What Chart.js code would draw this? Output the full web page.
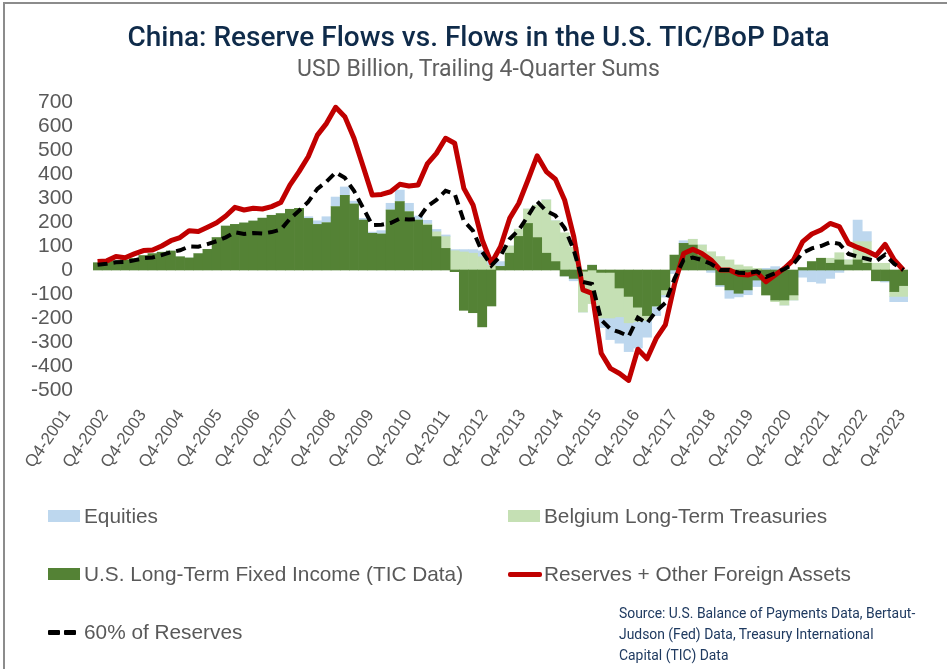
<!DOCTYPE html>
<html>
<head>
<meta charset="utf-8">
<script src="https://cdn.jsdelivr.net/npm/chart.js@4.4.1/dist/chart.umd.min.js"></script>
<style>
  html, body { margin: 0; padding: 0; background: #fff; }
  #wrap { position: relative; width: 947px; height: 669px; overflow: hidden; font-family: "Liberation Sans", Arial, sans-serif; }
  #frame { position: absolute; left: 3px; top: 2px; width: 1000px; height: 1000px; border-left: 2px solid #8c8c8c; border-top: 2px solid #8c8c8c; }
  #chart { position: absolute; left: 0; top: 0; }
  .title { position: absolute; left: 5px; width: 947px; text-align: center; white-space: nowrap; }
  #t1 { top: 21px; font-family: Roboto, sans-serif; font-weight: 500; font-size: 28px; line-height: 32px; color: #0f2b4a; }
  #t2 { top: 56px; font-family: Roboto, sans-serif; font-size: 23px; line-height: 26px; color: #5f5f5f; }
  .lg { position: absolute; font-size: 20.8px; line-height: 24px; color: #595959; white-space: nowrap; }
  .sw { position: absolute; }
  #src { position: absolute; left: 619px; top: 603px; font-family: Roboto, sans-serif; font-size: 13.9px; line-height: 21px; color: #1f3a60; }
</style>
</head>
<body>
<div id="wrap">
  <canvas id="chart" width="947" height="669"></canvas>
  <div id="frame"></div>
  <div class="title" id="t1">China: Reserve Flows vs. Flows in the U.S. TIC/BoP Data</div>
  <div class="title" id="t2">USD Billion, Trailing 4-Quarter Sums</div>

  <div class="sw" style="left:48px;top:510px;width:32px;height:12px;background:#bdd7ee"></div>
  <div class="lg" style="left:84px;top:504px">Equities</div>
  <div class="sw" style="left:508px;top:510px;width:32px;height:12px;background:#c5e0b4"></div>
  <div class="lg" style="left:544px;top:504px">Belgium Long-Term Treasuries</div>
  <div class="sw" style="left:48px;top:568px;width:32px;height:12px;background:#548235"></div>
  <div class="lg" style="left:84px;top:562px">U.S. Long-Term Fixed Income (TIC Data)</div>
  <div class="sw" style="left:508px;top:572px;width:34px;height:5px;background:#c00000;border-radius:2px"></div>
  <div class="lg" style="left:544px;top:562px">Reserves + Other Foreign Assets</div>
  <div class="sw" style="left:48px;top:630px;width:12px;height:5px;background:#000;border-radius:1px"></div>
  <div class="sw" style="left:64px;top:630px;width:12px;height:5px;background:#000;border-radius:1px"></div>
  <div class="lg" style="left:84px;top:620px">60% of Reserves</div>

  <div id="src">Source: U.S. Balance of Payments Data, Bertaut-<br>Judson (Fed) Data, Treasury International<br>Capital (TIC) Data</div>
</div>

<script>
// Quarterly categories, Q4-2001 through Q4-2023
const quarters = [
  "Q4-2001",
  "Q1-2002","Q2-2002","Q3-2002","Q4-2002","Q1-2003","Q2-2003","Q3-2003","Q4-2003",
  "Q1-2004","Q2-2004","Q3-2004","Q4-2004","Q1-2005","Q2-2005","Q3-2005","Q4-2005",
  "Q1-2006","Q2-2006","Q3-2006","Q4-2006","Q1-2007","Q2-2007","Q3-2007","Q4-2007",
  "Q1-2008","Q2-2008","Q3-2008","Q4-2008","Q1-2009","Q2-2009","Q3-2009","Q4-2009",
  "Q1-2010","Q2-2010","Q3-2010","Q4-2010","Q1-2011","Q2-2011","Q3-2011","Q4-2011",
  "Q1-2012","Q2-2012","Q3-2012","Q4-2012","Q1-2013","Q2-2013","Q3-2013","Q4-2013",
  "Q1-2014","Q2-2014","Q3-2014","Q4-2014","Q1-2015","Q2-2015","Q3-2015","Q4-2015",
  "Q1-2016","Q2-2016","Q3-2016","Q4-2016","Q1-2017","Q2-2017","Q3-2017","Q4-2017",
  "Q1-2018","Q2-2018","Q3-2018","Q4-2018","Q1-2019","Q2-2019","Q3-2019","Q4-2019",
  "Q1-2020","Q2-2020","Q3-2020","Q4-2020","Q1-2021","Q2-2021","Q3-2021","Q4-2021",
  "Q1-2022","Q2-2022","Q3-2022","Q4-2022","Q1-2023","Q2-2023","Q3-2023","Q4-2023"
];

// Axis labels shown along the bottom (one per year)
const yearLabels = [
  "Q4-2001","Q4-2002","Q4-2003","Q4-2004","Q4-2005","Q4-2006","Q4-2007","Q4-2008",
  "Q4-2009","Q4-2010","Q4-2011","Q4-2012","Q4-2013","Q4-2014","Q4-2015","Q4-2016",
  "Q4-2017","Q4-2018","Q4-2019","Q4-2020","Q4-2021","Q4-2022","Q4-2023"
];

// USD billion, trailing 4-quarter sums
const usLongTermFixedIncome = [
  30,
  33, 38, 42, 48, 60, 68, 74, 79,
  55, 50, 68, 86, 135, 183, 190, 196,
  204, 216, 228, 235, 253, 257, 215, 190,
  197, 264, 311, 275, 208, 153, 150, 250,
  285, 243, 208, 187, 139, 90, -7, -168,
  -178, -237, -150, 15, 70, 140, 194, 135,
  70, 35, -25, -35, -5, 20, -10, -10,
  -75, -110, -155, -190, -150, -83, 62, 111,
  104, 60, 28, -62, -83, -97, -83, -42,
  -104, -125, -125, -104, 10, 35, 49, 28,
  42, 21, 42, 28, -45, -45, -90, -65
];

const belgiumLongTermTreasuries = [
  0,
  0, 0, 0, 0, 0, 0, 0, 0,
  0, 0, 0, 0, 0, 0, 0, 0,
  0, 0, 0, 0, 0, 0, 0, 0,
  0, 0, 0, 0, 0, 0, 0, 0,
  0, 0, 0, 5, 20, 49, 80, 75,
  70, 55, 20, 0, 30, 30, 60, 135,
  222, 170, 155, 95, -170, -140, -190, -190,
  -120, -110, -60, -20, 0, -20, 0, 0,
  24, 44, 48, 56, 42, 21, 14, 7,
  0, -7, -21, -21, 0, 0, 0, 21,
  30, 21, 76, 90, 28, 28, -20, -45
];

const equities = [
  0,
  0, 0, 0, 0, 0, 0, 0, 0,
  0, 0, 0, 0, 0, 0, 0, 0,
  0, 0, 0, 0, 0, 0, 7, 15,
  25, 40, 35, 12, 7, 5, 14, 28,
  48, 35, 17, 15, 10, 7, 5, 10,
  15, 25, 25, 20, 0, 0, 0, 0,
  0, 0, 0, -10, 0, 0, -40, -90,
  -110, -120, -110, -70, -40, -10, -15, 11,
  0, 0, -10, -7, -35, -15, -20, -27,
  7, 14, 0, 0, -30, -49, -55, -35,
  -10, 0, 90, 42, 0, -5, -22, -22
];

const reservesAndOtherAssets = [
  35,
  38, 56, 51, 67, 81, 83, 100, 122,
  135, 164, 160, 178, 197, 225, 261, 250,
  257, 254, 264, 281, 354, 410, 472, 562,
  611, 678, 639, 549, 431, 312, 315, 326,
  357, 350, 354, 442, 486, 549, 528, 340,
  271, 125, 28, 97, 215, 278, 375, 476,
  410, 378, 292, 139, -83, -97, -347, -410,
  -431, -460, -330, -370, -285, -229, -60, 69,
  86, 69, 42, 0, 0, -18, -21, -10,
  -49, -21, 7, 42, 118, 150, 167, 194,
  181, 111, 94, 79, 60, 107, 42, 0
];

const sixtyPctOfReserves = [
  22,
  26, 32, 33, 40, 49, 52, 62, 74,
  82, 98, 97, 108, 120, 136, 157, 150,
  154, 152, 158, 168, 213, 247, 284, 338,
  368, 407, 384, 330, 258, 187, 189, 196,
  214, 210, 212, 265, 292, 330, 317, 204,
  163, 75, 18, 58, 129, 167, 225, 286,
  246, 227, 175, 83, -50, -58, -208, -246,
  -259, -276, -198, -222, -171, -137, -36, 42,
  52, 42, 25, 0, 0, -11, -13, -6,
  -29, -13, 4, 25, 71, 90, 100, 116,
  109, 67, 56, 47, 36, 64, 25, 0
];

const yTicks = [700, 600, 500, 400, 300, 200, 100, 0, -100, -200, -300, -400, -500];

const tickFont = { family: "'Liberation Sans', Arial, sans-serif", size: 21 };
const xFont = { family: "'Liberation Sans', Arial, sans-serif", size: 17 };

new Chart(document.getElementById('chart'), {
  data: {
    labels: quarters,
    datasets: [
      { type: 'line', label: '60% of Reserves', data: sixtyPctOfReserves,
        borderColor: '#000000', borderWidth: 4, borderDash: [10, 6],
        pointRadius: 0, tension: 0, fill: false, stack: 'pct', order: 0 },
      { type: 'line', label: 'Reserves + Other Foreign Assets', data: reservesAndOtherAssets,
        borderColor: '#c00000', borderWidth: 5, borderJoinStyle: 'round',
        pointRadius: 0, tension: 0, fill: false, stack: 'res', order: 1 },
      { type: 'bar', label: 'U.S. Long-Term Fixed Income (TIC Data)', data: usLongTermFixedIncome,
        backgroundColor: '#548235', stack: 'flows', order: 2 },
      { type: 'bar', label: 'Belgium Long-Term Treasuries', data: belgiumLongTermTreasuries,
        backgroundColor: '#c5e0b4', stack: 'flows', order: 2 },
      { type: 'bar', label: 'Equities', data: equities,
        backgroundColor: '#bdd7ee', stack: 'flows', order: 2 }
    ]
  },
  options: {
    responsive: false,
    animation: false,
    events: [],
    datasets: { bar: { barPercentage: 1, categoryPercentage: 1, borderWidth: 0 } },
    layout: { padding: { left: 0, right: 39, top: 102, bottom: 199 } },
    plugins: { legend: { display: false }, tooltip: { enabled: false }, title: { display: false } },
    scales: {
      x: {
        stacked: true,
        display: false,
        offset: true
      },
      // year labels, one per Q4, spread along the bottom edge
      xYears: {
        type: 'linear',
        position: 'bottom',
        min: 0.685, max: 22.158,
        afterBuildTicks: s => { s.ticks = yearLabels.map((_, k) => ({ value: k })); },
        grid: { display: false, drawTicks: false },
        border: { display: false },
        ticks: {
          autoSkip: false, maxRotation: 55, minRotation: 55,
          padding: 16,
          color: '#595959', font: xFont,
          callback: (v, i) => yearLabels[i]
        },
        afterFit: s => { s.height = 80; }
      },
      y: {
        stacked: true,
        min: -500, max: 700,
        afterBuildTicks: s => { s.ticks = yTicks.map(v => ({ value: v })); },
        grid: { display: false, drawTicks: false },
        border: { display: false },
        ticks: { autoSkip: false, color: '#595959', font: tickFont, padding: 20, callback: v => String(v) },
        afterFit: s => { s.width = 93; }
      }
    }
  }
});
</script>
</body>
</html>
